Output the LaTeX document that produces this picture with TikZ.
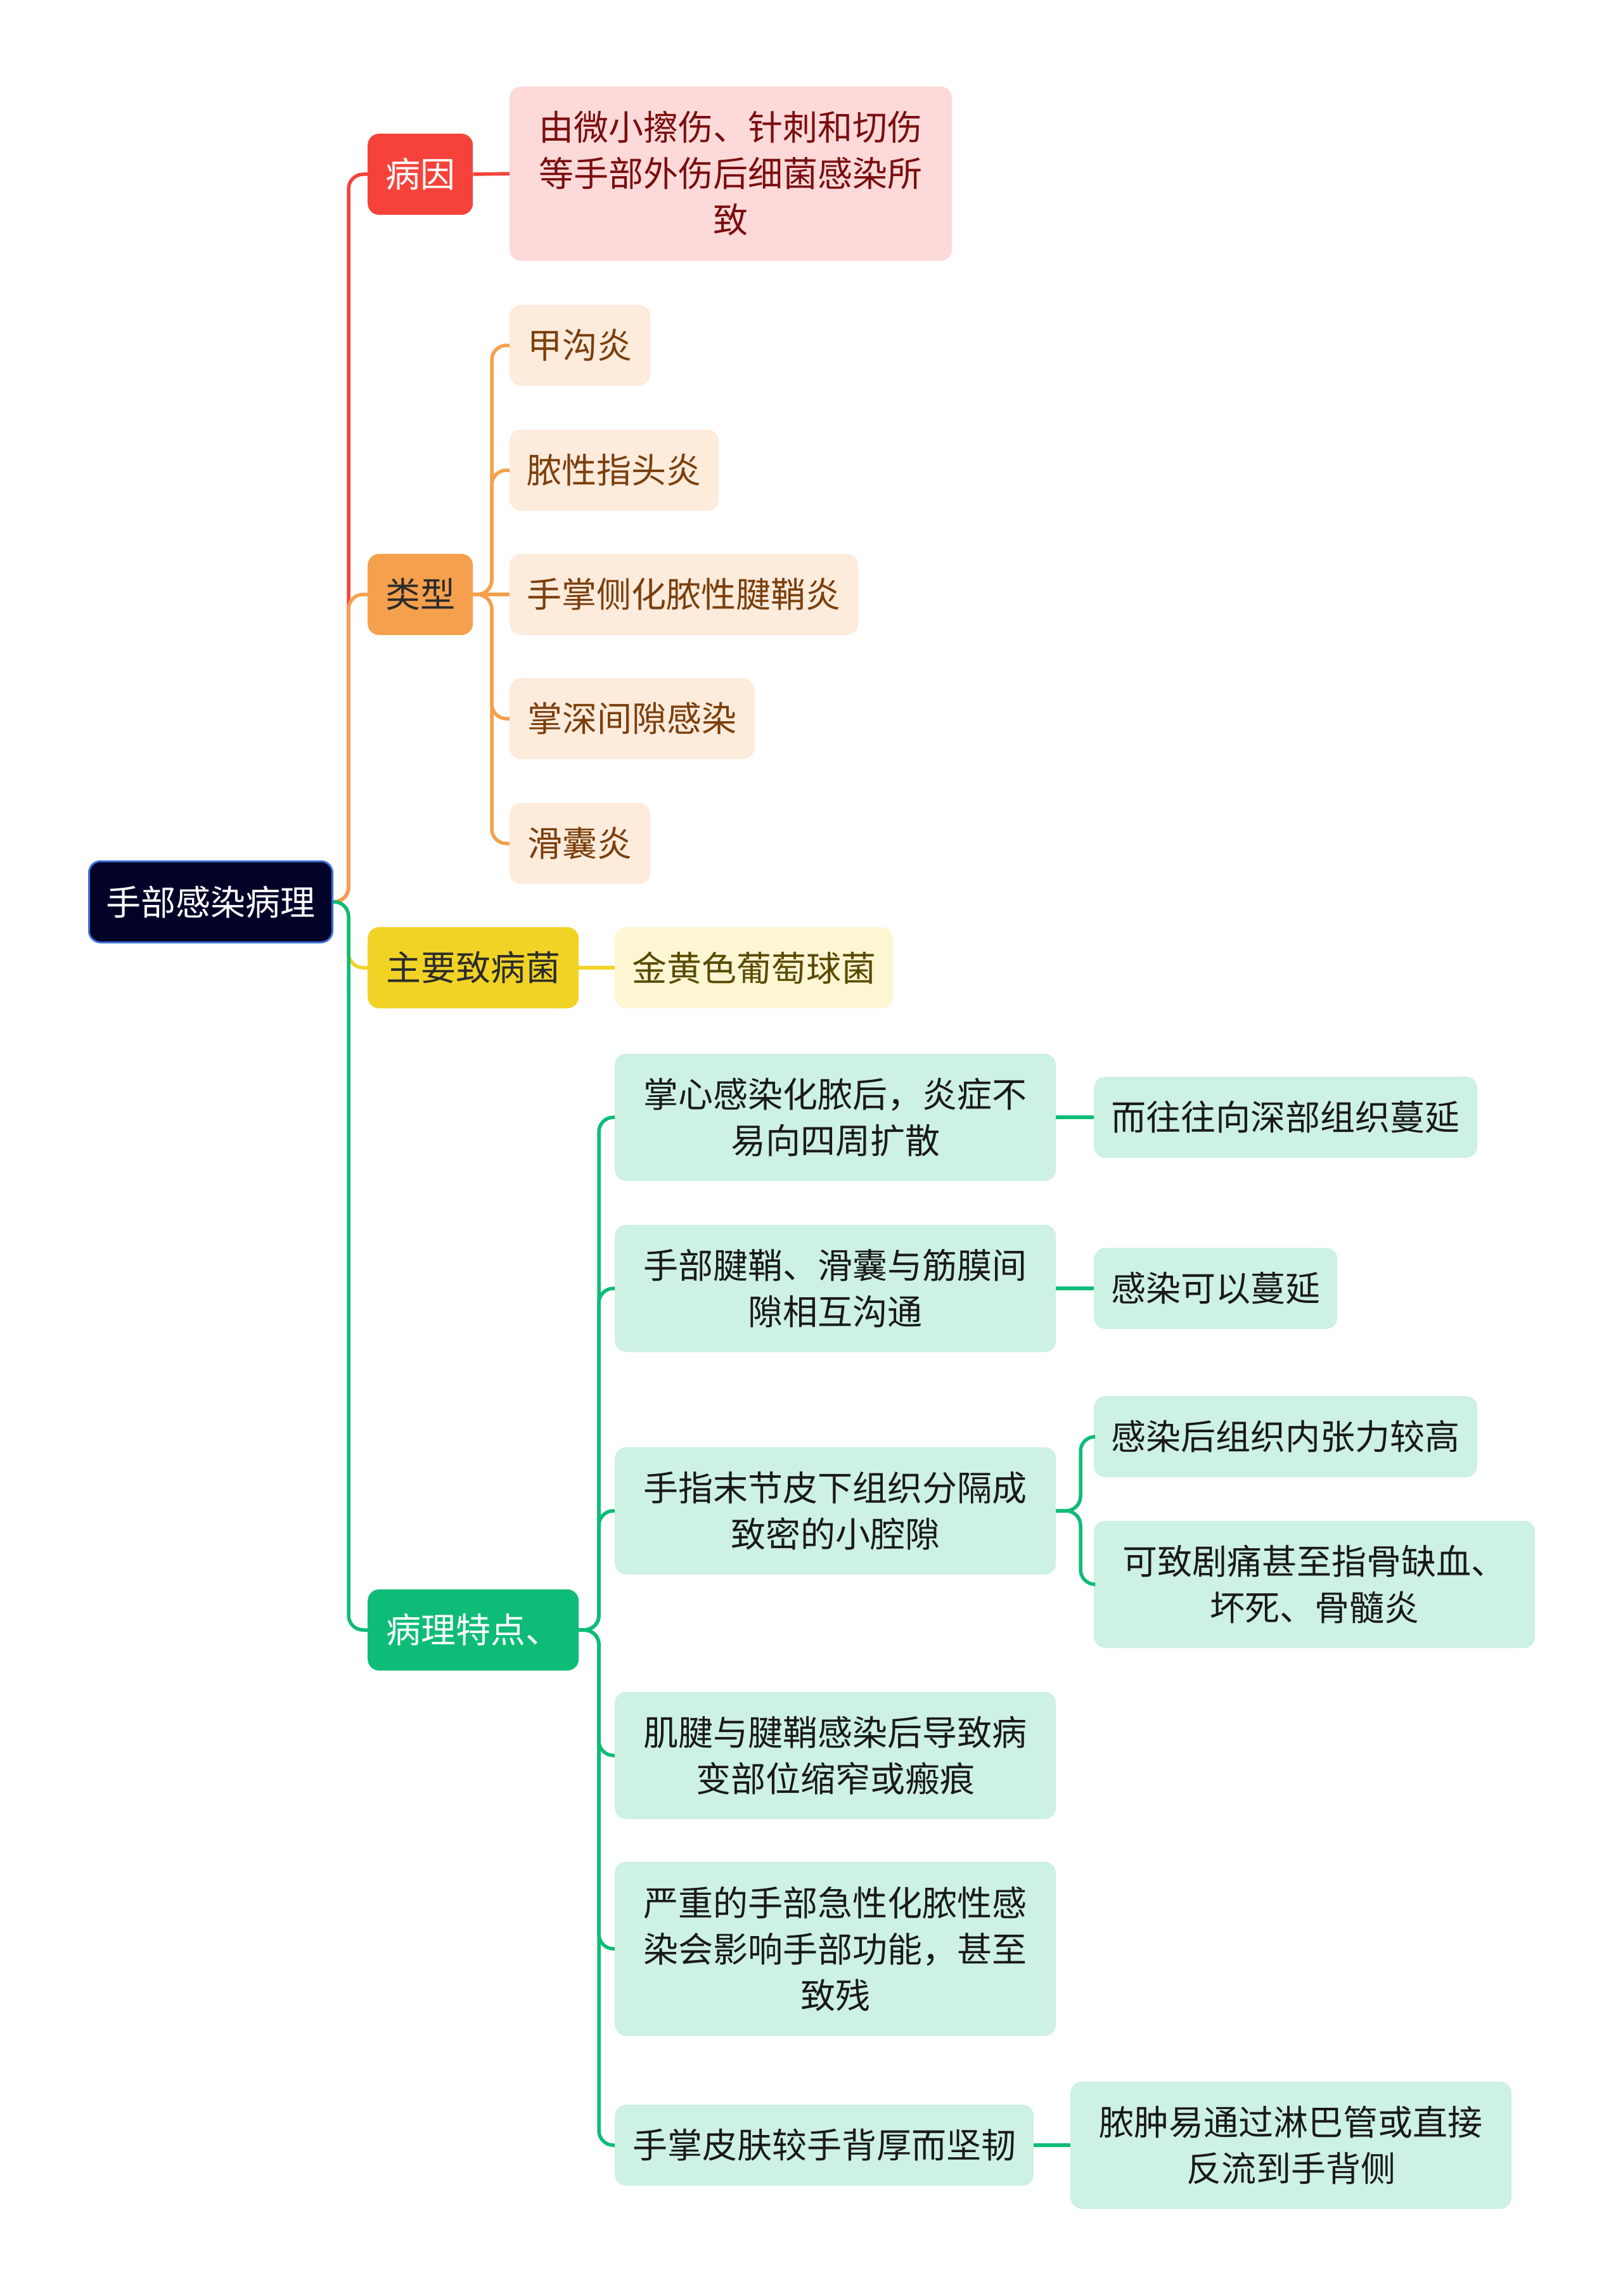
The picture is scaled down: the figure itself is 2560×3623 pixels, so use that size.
\documentclass[tikz,border=0pt]{standalone}
\usepackage{fontspec}
\setmainfont{Noto Sans CJK SC}
\definecolor{cRed}{HTML}{F5433B}
\definecolor{cRedL}{HTML}{FDD9D9}
\definecolor{cRedT}{HTML}{7A0D0D}
\definecolor{cOra}{HTML}{F5A04D}
\definecolor{cOraL}{HTML}{FDEBDC}
\definecolor{cOraT}{HTML}{7B3F0C}
\definecolor{cYel}{HTML}{F0D325}
\definecolor{cYelL}{HTML}{FDF6D3}
\definecolor{cYelT}{HTML}{5A4A00}
\definecolor{cGrn}{HTML}{0EBC77}
\definecolor{cGrnL}{HTML}{CDF1E2}
\definecolor{cRoot}{HTML}{020229}
\definecolor{cRootB}{HTML}{3C70D8}
\definecolor{cDark}{HTML}{2B2B2B}
\begin{document}
\begin{tikzpicture}[x=1pt,y=-1pt,
  box/.style={anchor=west, rounded corners=18pt, inner xsep=0pt, inner ysep=0pt,
    align=center, font=\fontsize{55}{73}\selectfont, minimum height=128pt},
  rootbox/.style={box, fill=cRoot, draw=cRootB, line width=3pt, text=white},
  redbox/.style={box, fill=cRed, text=white},
  redsub/.style={box, fill=cRedL, text=cRedT},
  orabox/.style={box, fill=cOra, text=cDark},
  orasub/.style={box, fill=cOraL, text=cOraT},
  yelbox/.style={box, fill=cYel, text=cDark},
  yelsub/.style={box, fill=cYelL, text=cYelT},
  grnbox/.style={box, fill=cGrn, text=white},
  grnsub/.style={box, fill=cGrnL, text=black!90},
  two/.style={minimum height=201pt},
  three/.style={minimum height=275pt},
  link/.style={line width=5.5pt, rounded corners=23pt},
]
\useasboundingbox (0,0) rectangle (2560,3623);

% nodes
\node[rootbox, minimum width=384pt] (root) at (139,1423) {手部感染病理};

\node[redbox, minimum width=166pt] (bingyin) at (580,275) {病因};
\node[redsub, three, minimum width=698pt] (bingyinA) at (804,274) {由微小擦伤、针刺和切伤\\等手部外伤后细菌感染所\\致};

\node[orabox, minimum width=166pt] (leixing) at (580,938) {类型};
\node[orasub, minimum width=222pt] (lx1) at (804,545) {甲沟炎};
\node[orasub, minimum width=330pt] (lx2) at (804,742) {脓性指头炎};
\node[orasub, minimum width=550pt] (lx3) at (804,938) {手掌侧化脓性腱鞘炎};
\node[orasub, minimum width=386pt] (lx4) at (804,1134) {掌深间隙感染};
\node[orasub, minimum width=222pt] (lx5) at (804,1331) {滑囊炎};

\node[yelbox, minimum width=333pt] (jun) at (580,1527) {主要致病菌};
\node[yelsub, minimum width=439pt] (junA) at (970,1527) {金黄色葡萄球菌};

\node[grnbox, minimum width=333pt] (td) at (580,2572) {病理特点、};
\node[grnsub, two, minimum width=696pt] (g1) at (970,1763) {掌心感染化脓后，炎症不\\易向四周扩散};
\node[grnsub, minimum width=605pt] (g1a) at (1726,1763) {而往往向深部组织蔓延};
\node[grnsub, two, minimum width=696pt] (g2) at (970,2033) {手部腱鞘、滑囊与筋膜间\\隙相互沟通};
\node[grnsub, minimum width=384pt] (g2a) at (1726,2033) {感染可以蔓延};
\node[grnsub, two, minimum width=696pt] (g3) at (970,2384) {手指末节皮下组织分隔成\\致密的小腔隙};
\node[grnsub, minimum width=605pt] (g3a) at (1726,2267) {感染后组织内张力较高};
\node[grnsub, two, minimum width=696pt] (g3b) at (1726,2500) {可致剧痛甚至指骨缺血、\\坏死、骨髓炎};
\node[grnsub, two, minimum width=696pt] (g4) at (970,2770) {肌腱与腱鞘感染后导致病\\变部位缩窄或瘢痕};
\node[grnsub, three, minimum width=696pt] (g5) at (970,3075) {严重的手部急性化脓性感\\染会影响手部功能，甚至\\致残};
\node[grnsub, minimum width=661pt] (g6) at (970,3385) {手掌皮肤较手背厚而坚韧};
\node[grnsub, two, minimum width=696pt] (g6a) at (1689,3385) {脓肿易通过淋巴管或直接\\反流到手背侧};

% connectors: level 1
\draw[link, cRed] (root.east) -- (550,1423) |- (bingyin.west);
\draw[link, cOra] (root.east) -- (550,1423) |- (leixing.west);
\draw[link, cYel] (root.east) -- (550,1423) |- (jun.west);
\draw[link, cGrn] (root.east) -- (550,1423) |- (td.west);

% red
\draw[link, cRed] (bingyin.east) -- (bingyinA.west);

% orange
\foreach \c in {lx1,lx2,lx4,lx5}
  \draw[link, cOra] (leixing.east) -- (776,938) |- (\c.west);
\draw[link, cOra] (leixing.east) -- (lx3.west);

% yellow
\draw[link, cYel] (jun.east) -- (junA.west);

% green
\foreach \c in {g1,g2,g3,g4,g5,g6}
  \draw[link, cGrn] (td.east) -- (945,2572) |- (\c.west);
\draw[link, cGrn] (g1.east) -- (g1a.west);
\draw[link, cGrn] (g2.east) -- (g2a.west);
\draw[link, cGrn] (g3.east) -- (1705,2384) |- (g3a.west);
\draw[link, cGrn] (g3.east) -- (1705,2384) |- (g3b.west);
\draw[link, cGrn] (g6.east) -- (g6a.west);
\end{tikzpicture}
\end{document}
